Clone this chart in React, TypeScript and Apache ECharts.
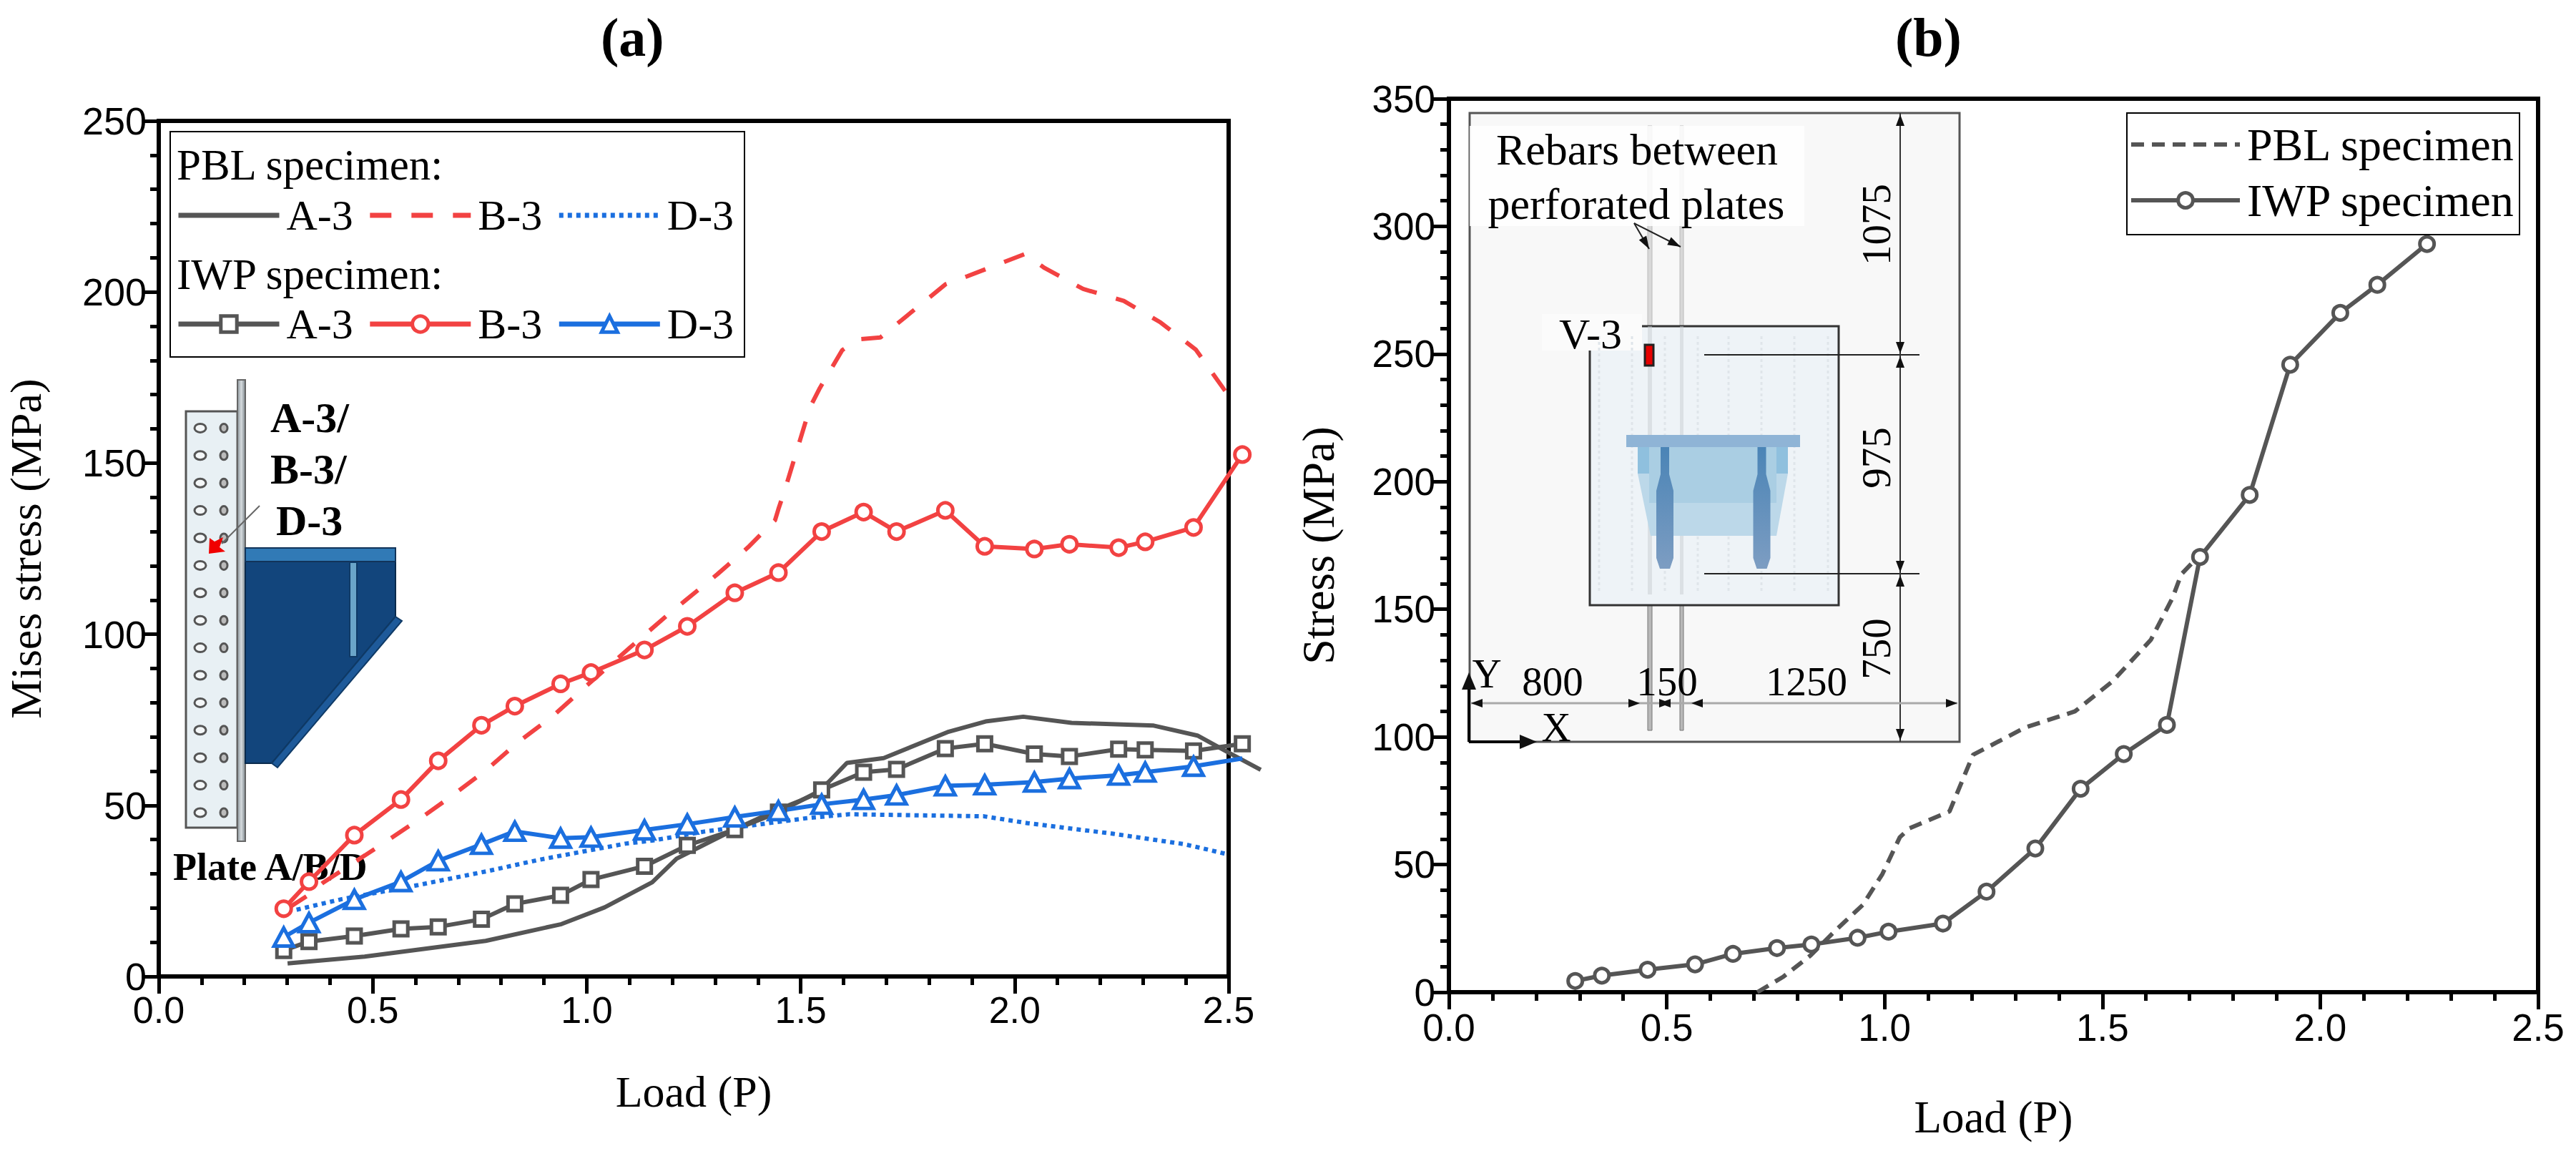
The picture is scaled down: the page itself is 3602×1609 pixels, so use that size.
import React, { useEffect, useRef } from 'react';
import * as echarts from 'echarts';

const SERIF = '"Liberation Serif", "Times New Roman", serif';
const SANS = '"Liberation Sans", Arial, sans-serif';
const GRAY = '#555555';
const RED = '#f24242';
const BLUE = '#1b6fdf';

// panel (a): IWP specimen, all three curves share the same load steps
const iwpLoad = [0.292, 0.351, 0.457, 0.566, 0.653, 0.754, 0.832, 0.939, 1.01, 1.135, 1.235, 1.346, 1.448, 1.549, 1.647, 1.724, 1.838, 1.93, 2.046, 2.128, 2.243, 2.305, 2.418, 2.532];
const iwpA3 = [7.6, 10.2, 11.8, 13.9, 14.5, 16.7, 21.2, 23.7, 28.3, 32.2, 38.3, 42.9, 48, 54.5, 59.7, 60.5, 66.6, 68, 65, 64.3, 66.4, 66.2, 65.9, 68];
const iwpB3 = [19.8, 27.7, 41.3, 51.7, 63, 73.4, 79, 85.5, 88.8, 95.4, 102.3, 112.1, 118, 130, 135.7, 130, 136.2, 125.7, 124.9, 126.3, 125.3, 127, 131.2, 152.5];
const iwpD3 = [11.5, 15.7, 22.5, 27.7, 33.8, 38.6, 42.4, 40.4, 40.7, 42.8, 44.5, 46.6, 48.4, 50.3, 51.7, 53, 55.7, 56, 56.8, 57.8, 58.8, 59.7, 61.4, 63.7];

// panel (a): PBL specimen curves
const pblA3Load = [0.301, 0.481, 0.764, 0.941, 1.042, 1.153, 1.21, 1.287, 1.345, 1.44, 1.5, 1.536, 1.565, 1.608, 1.694, 1.843, 1.932, 2.02, 2.133, 2.325, 2.427, 2.5, 2.575];
const pblA3 = [3.8, 5.8, 10.4, 15.3, 20.2, 27.5, 34.4, 39.3, 42.9, 48.4, 51.4, 53.4, 56.8, 62.4, 63.8, 71.4, 74.5, 75.9, 74.1, 73.3, 70.4, 65.4, 60.4];
const pblB3Load = [0.303, 0.346, 0.385, 0.428, 0.514, 0.6, 0.682, 0.764, 0.84, 0.922, 1.0, 1.1, 1.187, 1.228, 1.305, 1.377, 1.44, 1.448, 1.463, 1.522, 1.545, 1.597, 1.635, 1.686, 1.839, 1.889, 2.024, 2.07, 2.16, 2.255, 2.341, 2.423, 2.514];
const pblB3 = [20, 23.5, 27.5, 31, 38, 45.2, 52.5, 60.2, 68.5, 76.2, 85, 96, 105.4, 109.6, 117.5, 125.4, 133.3, 136.6, 142.2, 166.4, 172, 183, 186.2, 186.7, 202.3, 204.6, 211.1, 207, 200.9, 197.4, 191.1, 183.2, 167.2];
const pblD3Load = [0.322, 0.428, 0.606, 0.769, 0.889, 1.09, 1.153, 1.273, 1.517, 1.613, 1.928, 2.03, 2.23, 2.394, 2.454, 2.497];
const pblD3 = [19.5, 22.6, 26.7, 30.8, 34.1, 38.8, 39.7, 42.3, 46.3, 47.4, 46.8, 44.8, 41.7, 38.7, 37, 35.7];

// panel (b)
const iwpStressLoad = [0.29, 0.351, 0.456, 0.565, 0.652, 0.753, 0.832, 0.938, 1.009, 1.134, 1.234, 1.346, 1.45, 1.549, 1.648, 1.724, 1.838, 1.931, 2.046, 2.131, 2.245];
const iwpStress = [4.4, 6.5, 8.8, 10.9, 15, 17.3, 18.7, 21.3, 23.7, 26.9, 39.4, 56.3, 79.7, 93.3, 104.7, 170.5, 194.8, 245.8, 266.1, 277.1, 293.1];
const pblStressLoad = [0.708, 0.768, 0.83, 0.888, 0.95, 0.995, 1.035, 1.057, 1.149, 1.203, 1.323, 1.437, 1.522, 1.611, 1.661, 1.681, 1.708];
const pblStress = [0, 6.1, 14.4, 24.3, 34.2, 46.3, 60.7, 64.2, 70.8, 93, 103.7, 110, 121.6, 138, 154.5, 163.7, 168.5];

const legendTopRow = ['PBL A-3', 'PBL B-3', 'PBL D-3'];
const legendBottomRow = ['IWP A-3', 'IWP B-3', 'IWP D-3'];

const zip = (xs: number[], ys: number[]) => xs.map((x, i) => [x, ys[i]]);

const serifText = (text: string, x: number, y: number, fontSize: number, extra: any = {}) => ({
  type: 'text',
  x,
  y,
  z: extra.z ?? 1,
  rotation: extra.rotation ?? 0,
  style: {
    text,
    fontFamily: SERIF,
    fontSize,
    fontWeight: extra.fontWeight ?? 'normal',
    fill: '#000',
    align: extra.align ?? 'center',
    verticalAlign: 'middle',
  },
});

const rect = (x1: number, y1: number, x2: number, y2: number, fill: string, stroke?: string, lineWidth = 3, z = 1) => ({
  type: 'rect',
  z,
  shape: { x: x1, y: y1, width: x2 - x1, height: y2 - y1 },
  style: { fill, stroke: stroke ?? 'none', lineWidth },
});

const line = (x1: number, y1: number, x2: number, y2: number, stroke: string, lineWidth = 2, lineDash?: number[]) => ({
  type: 'line',
  z: 1,
  shape: { x1, y1, x2, y2 },
  style: { stroke, lineWidth, lineDash },
});

const poly = (points: number[][], fill: any, stroke?: string, lineWidth = 1) => ({
  type: 'polygon',
  z: 1,
  shape: { points },
  style: { fill, stroke: stroke ?? 'none', lineWidth },
});

// small filled arrow head, tip at (x, y), pointing along (dx, dy)
const head = (x: number, y: number, dx: number, dy: number, len = 16, half = 6) => {
  const n = Math.hypot(dx, dy);
  const ux = dx / n;
  const uy = dy / n;
  return poly(
    [
      [x, y],
      [x - ux * len - uy * half, y - uy * len + ux * half],
      [x - ux * len + uy * half, y - uy * len - ux * half],
    ],
    '#111',
  );
};

// panel (a) inset: perforated plate and steel box
const plateInset = () => {
  const els: any[] = [
    rect(260, 575, 332, 1157, '#e8f0f4', '#555', 3),
    {
      type: 'rect',
      z: 1,
      shape: { x: 332, y: 531, width: 11, height: 645 },
      style: {
        fill: { type: 'linear', x: 0, y: 0, x2: 1, y2: 0, colorStops: [{ offset: 0, color: '#8e989e' }, { offset: 0.5, color: '#d5dadd' }, { offset: 1, color: '#7d878d' }] },
        stroke: '#666',
        lineWidth: 2,
      },
    },
  ];
  for (let i = 0; i < 15; i++) {
    const cy = 598.4 + 38.4 * i;
    els.push({ type: 'ellipse', z: 1, shape: { cx: 280, cy, rx: 8, ry: 6 }, style: { fill: '#f4f7f8', stroke: '#555', lineWidth: 3 } });
    els.push({ type: 'ellipse', z: 1, shape: { cx: 313, cy, rx: 5, ry: 6 }, style: { fill: '#bbb', stroke: '#555', lineWidth: 3 } });
  }
  els.push(poly([[343, 785], [553, 785], [553, 862], [380, 1067], [343, 1067]], '#12457c', '#0a2a4c', 2));
  els.push(rect(343, 766, 553, 785, '#317ab6', '#12345a', 2));
  els.push(poly([[380, 1067], [388, 1073], [562, 868], [553, 862]], '#1e5a9a', '#0f3a66', 2));
  els.push(rect(489, 786, 499, 918, '#6aa5c9', '#0f3a66', 2));
  els.push(line(363, 707, 310, 760, '#666', 2));
  els.push(poly([[292, 774], [293, 752], [300, 757], [312, 751], [307, 765], [315, 771]], '#f00000'));
  els.push(serifText('A-3/', 378, 584, 60, { fontWeight: 'bold', align: 'left' }));
  els.push(serifText('B-3/', 378, 656, 60, { fontWeight: 'bold', align: 'left' }));
  els.push(serifText('D-3', 386, 728, 60, { fontWeight: 'bold', align: 'left' }));
  els.push(serifText('Plate A/B/D', 242, 1212, 54, { fontWeight: 'bold', align: 'left' }));
  return els;
};

// panel (b) inset: elevation drawing with dimensions
const elevationInset = () => {
  const stemFill = { type: 'linear', x: 0, y: 0, x2: 0, y2: 1, colorStops: [{ offset: 0, color: '#4a84b6' }, { offset: 1, color: '#7d9dc2' }] };
  const els: any[] = [
    rect(2055, 158, 2740, 1037, '#f8f8f8', '#555', 3),
    rect(2304, 176, 2310, 456, '#d8d8d8', '#bbb', 1),
    rect(2349, 176, 2354, 456, '#d8d8d8', '#bbb', 1),
    rect(2304, 831, 2310, 1021, '#b8b8b8', '#777', 1),
    rect(2349, 831, 2354, 1021, '#b8b8b8', '#777', 1),
    rect(2055, 176, 2523, 316, 'rgba(255,255,255,0.85)'),
    rect(2223, 456, 2571, 846, '#eef3f7', '#333', 3),
    rect(2156, 439, 2296, 490, '#fbfbfb'),
  ];
  [2236, 2282, 2328, 2374, 2417, 2463, 2509, 2556].forEach((x) => {
    els.push(line(x, 470, x, 830, '#dfe5ea', 3, [4, 4]));
  });
  els.push(rect(2304, 456, 2310, 831, 'rgba(200,205,210,0.5)'));
  els.push(rect(2349, 456, 2354, 831, 'rgba(200,205,210,0.5)'));
  els.push(poly([[2290, 662], [2500, 662], [2484, 749], [2308, 749]], '#bcd8e9'));
  els.push(rect(2290, 625, 2500, 662, '#8fc0de'));
  els.push(rect(2306, 625, 2484, 703, '#aacee3'));
  els.push(rect(2274, 608, 2517, 625, '#8fb4d6'));
  [2328, 2463.5].forEach((cx) => {
    els.push(poly(
      [[cx - 6, 625], [cx + 6, 625], [cx + 6, 663], [cx + 12, 686], [cx + 12, 780], [cx + 7, 795], [cx - 7, 795], [cx - 12, 780], [cx - 12, 686], [cx - 6, 663]],
      stemFill,
    ));
  });
  els.push(rect(2300, 482, 2312, 511, '#e60000', '#222', 3));
  // dimension lines
  els.push(line(2383, 496, 2684, 496, '#222', 2));
  els.push(line(2383, 802, 2684, 802, '#222', 2));
  els.push(line(2657, 158, 2657, 1037, '#333', 2));
  els.push(head(2657, 160, 0, -1), head(2657, 494, 0, 1), head(2657, 498, 0, -1), head(2657, 800, 0, 1), head(2657, 804, 0, -1), head(2657, 1035, 0, 1));
  els.push(line(2056, 983, 2737, 983, '#aaa', 3));
  els.push(head(2057, 983, -1, 0), head(2293, 983, 1, 0), head(2320, 983, -1, 0), head(2336, 983, 1, 0), head(2365, 983, -1, 0), head(2737, 983, 1, 0));
  // load axes
  els.push(line(2054, 1037, 2054, 945, '#000', 4));
  els.push(line(2054, 1037, 2135, 1037, '#000', 4));
  els.push(head(2054, 940, 0, -1, 24, 10), head(2149, 1037, 1, 0, 24, 10));
  // arrows from the rebar note
  els.push(line(2285, 312, 2306, 348, '#222', 2));
  els.push(line(2285, 312, 2350, 345, '#222', 2));
  els.push(head(2306, 348, 21, 36, 18, 6), head(2350, 345, 65, 33, 18, 6));
  els.push(serifText('Rebars between', 2289, 209, 62));
  els.push(serifText('perforated plates', 2288, 285, 62));
  els.push(serifText('V-3', 2224, 467, 60));
  els.push(serifText('1075', 2623, 314, 57, { rotation: Math.PI / 2 }));
  els.push(serifText('975', 2623, 640, 57, { rotation: Math.PI / 2 }));
  els.push(serifText('750', 2623, 907, 57, { rotation: Math.PI / 2 }));
  els.push(serifText('800', 2171, 952, 57));
  els.push(serifText('150', 2331, 952, 57));
  els.push(serifText('1250', 2526, 952, 57));
  els.push(serifText('Y', 2079, 941, 57));
  els.push(serifText('X', 2176, 1016, 57));
  return els;
};

const valueAxis = (gridIndex: number, name: string, max: number, interval: number, opts: any) => ({
  type: 'value',
  gridIndex,
  name,
  nameLocation: 'middle',
  nameGap: opts.nameGap,
  nameTextStyle: { fontFamily: SERIF, fontSize: opts.nameSize, color: '#000' },
  min: 0,
  max,
  interval,
  splitLine: { show: false },
  axisLine: { show: true, onZero: false, lineStyle: { color: '#000', width: 6 } },
  axisTick: { show: true, inside: false, length: 24, lineStyle: { color: '#000', width: 5 } },
  minorTick: { show: true, splitNumber: 5, length: 12, lineStyle: { color: '#000', width: 5 } },
  axisLabel: {
    show: true,
    margin: opts.margin,
    fontFamily: SANS,
    fontSize: opts.labelSize,
    color: '#000',
    showMinLabel: true,
    showMaxLabel: true,
    formatter: opts.formatter,
  },
});

const markerStyle = (color: string, borderWidth = 5) => ({ color: '#fff', borderColor: color, borderWidth });

const lineSeries = (name: string, data: any[], color: string, width: number, index: number, extra: any = {}) => ({
  type: 'line',
  name,
  data,
  xAxisIndex: index,
  yAxisIndex: index,
  clip: false,
  smooth: false,
  symbol: 'none',
  lineStyle: { color, width, type: 'solid', ...(extra.lineStyle ?? {}) },
  itemStyle: { color },
  ...extra.rest,
});

// line-only series would otherwise get a dot in their legend sample
const noMarker = (name: string) => ({
  name,
  itemStyle: { color: 'rgba(0,0,0,0)', borderColor: 'rgba(0,0,0,0)', borderWidth: 0, opacity: 0 },
});

const legendBase = (data: any[], left: number, top: number) => ({
  data,
  left,
  top,
  orient: 'horizontal',
  padding: 0,
  itemWidth: 141,
  itemHeight: 28,
  itemGap: 20,
  z: 10,
  selectedMode: false,
  itemStyle: { borderWidth: 5 },
  lineStyle: { width: 7 },
  formatter: (name: string) => name.split(' ')[1],
  textStyle: { fontFamily: SERIF, fontSize: 60, color: '#000', padding: [0, 0, 0, 5] },
});

// panel (a) curves run past the right frame, so they live on a hidden wider
// grid on the same scale (the line is always cut at its grid, clip or not)
const PANEL_A_LOAD_PX = 598.4;
const PANEL_A_HIDDEN_MAX = 2.6;
const HIDDEN = 2;

const App: React.FC = () => {
  const chartRef = useRef<HTMLDivElement>(null);

  useEffect(() => {
    if (!chartRef.current) return;
    const chart = echarts.init(chartRef.current, undefined, { renderer: 'svg' });

    const titleRich = (letter: string) => ({
      text: `{p|(}{b|${letter}}{p|)}`,
      textStyle: {
        rich: {
          p: { fontFamily: SERIF, fontSize: 76, color: '#000' },
          b: { fontFamily: SERIF, fontSize: 76, fontWeight: 'bold', color: '#000' },
        },
      },
    });

    // the last IWP D-3 step carries no triangle in the figure
    const iwpD3Points = zip(iwpLoad, iwpD3).map((p, i) => (i === iwpLoad.length - 1 ? { value: p, symbol: 'none' } : p));

    const option: any = {
      animation: false,
      backgroundColor: '#fff',
      title: [
        { ...titleRich('a'), left: 840, top: 14, padding: 0 },
        { ...titleRich('b'), left: 2650, top: 14, padding: 0 },
      ],
      grid: [
        { left: 222, top: 169, width: 1496, height: 1196, show: true, borderWidth: 6, borderColor: '#000', backgroundColor: 'transparent' },
        { left: 2026, top: 138, width: 1523, height: 1249, show: true, borderWidth: 6, borderColor: '#000', backgroundColor: 'transparent' },
        { left: 222, top: 169, width: PANEL_A_LOAD_PX * PANEL_A_HIDDEN_MAX, height: 1196, show: false },
      ],
      xAxis: [
        valueAxis(0, 'Load (P)', 2.5, 0.5, { nameGap: 130, nameSize: 62, margin: 21, labelSize: 52, formatter: (v: number) => v.toFixed(1) }),
        valueAxis(1, 'Load (P)', 2.5, 0.5, { nameGap: 143, nameSize: 63, margin: 23, labelSize: 53, formatter: (v: number) => v.toFixed(1) }),
        { type: 'value', gridIndex: HIDDEN, min: 0, max: PANEL_A_HIDDEN_MAX, show: false },
      ],
      yAxis: [
        valueAxis(0, 'Mises stress (MPa)', 250, 50, { nameGap: 155, nameSize: 62, margin: 17, labelSize: 54 }),
        valueAxis(1, 'Stress (MPa)', 350, 50, { nameGap: 151, nameSize: 64, margin: 19, labelSize: 53 }),
        { type: 'value', gridIndex: HIDDEN, min: 0, max: 250, show: false },
      ],
      legend: [
        legendBase(legendTopRow.map(noMarker), 246, 271),
        legendBase(legendBottomRow, 246, 423),
        {
          data: [noMarker('PBL specimen'), 'IWP specimen'],
          left: 2977,
          top: 170,
          orient: 'vertical',
          padding: 0,
          itemWidth: 152,
          itemHeight: 26,
          itemGap: 14,
          z: 10,
          selectedMode: false,
          itemStyle: { borderWidth: 5 },
          lineStyle: { width: 6 },
          textStyle: { fontFamily: SERIF, fontSize: 64, color: '#000', padding: [0, 0, 0, 5] },
        },
      ],
      graphic: {
        elements: [
          ...plateInset(),
          ...elevationInset(),
          rect(238, 184, 1041, 499, 'none', '#000', 2),
          serifText('PBL specimen:', 247, 230, 61, { align: 'left', z: 5 }),
          serifText('IWP specimen:', 247, 383, 61, { align: 'left', z: 5 }),
          rect(2974, 158, 3523, 328, '#fff', '#000', 2, 5),
        ],
      },
      series: [
        lineSeries('PBL A-3', zip(pblA3Load, pblA3), GRAY, 6, HIDDEN),
        lineSeries('PBL B-3', zip(pblB3Load, pblB3), RED, 6, HIDDEN, { lineStyle: { type: [30, 28] } }),
        lineSeries('PBL D-3', zip(pblD3Load, pblD3), BLUE, 6, HIDDEN, { lineStyle: { type: [6, 6] } }),
        lineSeries('IWP A-3', zip(iwpLoad, iwpA3), GRAY, 6, HIDDEN, {
          rest: { symbol: 'rect', symbolSize: 19, showAllSymbol: true, itemStyle: markerStyle(GRAY) },
        }),
        lineSeries('IWP B-3', zip(iwpLoad, iwpB3), RED, 6, HIDDEN, {
          rest: { symbol: 'circle', symbolSize: 21, showAllSymbol: true, itemStyle: markerStyle(RED) },
        }),
        lineSeries('IWP D-3', iwpD3Points, BLUE, 6, HIDDEN, {
          rest: { symbol: 'triangle', symbolSize: [27, 25], showAllSymbol: true, itemStyle: markerStyle(BLUE) },
        }),
        lineSeries('PBL specimen', zip(pblStressLoad, pblStress), GRAY, 6, 1, { lineStyle: { type: [18, 11] } }),
        lineSeries('IWP specimen', zip(iwpStressLoad, iwpStress), GRAY, 6, 1, {
          rest: { symbol: 'circle', symbolSize: 20, showAllSymbol: true, itemStyle: markerStyle(GRAY) },
        }),
      ],
    };

    chart.setOption(option);
    return () => chart.dispose();
  }, []);

  return <div ref={chartRef} style={{ position: 'fixed', left: 0, top: 0, width: 3602, height: 1609, background: '#fff' }} />;
};

export default App;
